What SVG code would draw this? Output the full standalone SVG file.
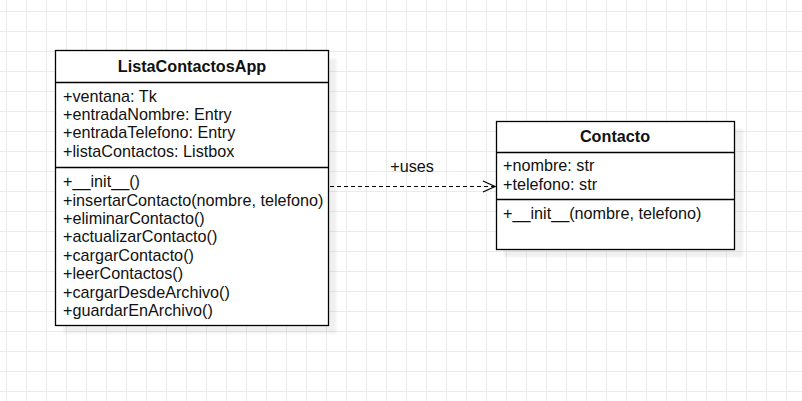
<svg xmlns="http://www.w3.org/2000/svg" width="802" height="401" viewBox="0 0 802 401">
<defs>
<pattern id="grid" x="6" y="11" width="20" height="20" patternUnits="userSpaceOnUse">
<path d="M0.5 0 V20 M0 0.5 H20" stroke="#ebebeb" stroke-width="1" fill="none"/>
</pattern>
<filter id="sh" x="-10%" y="-10%" width="130%" height="130%">
<feGaussianBlur stdDeviation="1"/>
</filter>
<marker id="open" viewBox="0 0 14 14" refX="13" refY="7" markerWidth="14" markerHeight="14" markerUnits="userSpaceOnUse" orient="auto">
<path d="M1 1.5 L13 7 L1 12.5" fill="none" stroke="#000" stroke-width="1.2"/>
</marker>
</defs>
<style>
.box{fill:#fff;stroke:#000;stroke-width:1.3}
.shadow{fill:#000;opacity:0.055}
.sep{stroke:#000;stroke-width:1.3}
.t{font-family:"Liberation Sans",Arial,sans-serif;font-size:16.2px;fill:#111}
.title{font-family:"Liberation Sans",Arial,sans-serif;font-size:16.2px;font-weight:bold;fill:#111;text-anchor:middle}
</style>
<rect width="802" height="401" fill="#fff"/>
<rect width="802" height="401" fill="url(#grid)"/>
<g id="connectors">
<line x1="330" y1="186.5" x2="495" y2="186.5" stroke="#000" stroke-width="1.2" stroke-dasharray="4 3" marker-end="url(#open)"/>
<text class="t" x="412" y="172" text-anchor="middle">+uses</text>
</g>
<g id="ListaContactosApp">
<rect class="shadow" x="63.5" y="58.5" width="273" height="275" filter="url(#sh)"/>
<rect class="box" x="55.5" y="50.5" width="273" height="275"/>
<text class="title" x="192" y="72">ListaContactosApp</text>
<line class="sep" x1="55.5" y1="82.5" x2="328.5" y2="82.5"/>
<text class="t" x="63" y="102">+ventana: Tk</text>
<text class="t" x="63" y="120">+entradaNombre: Entry</text>
<text class="t" x="63" y="138">+entradaTelefono: Entry</text>
<text class="t" x="63" y="157">+listaContactos: Listbox</text>
<line class="sep" x1="55.5" y1="167.5" x2="328.5" y2="167.5"/>
<text class="t" x="63" y="187">+__init__()</text>
<text class="t" x="63" y="206">+insertarContacto(nombre, telefono)</text>
<text class="t" x="63" y="224">+eliminarContacto()</text>
<text class="t" x="63" y="242">+actualizarContacto()</text>
<text class="t" x="63" y="261">+cargarContacto()</text>
<text class="t" x="63" y="279">+leerContactos()</text>
<text class="t" x="63" y="298">+cargarDesdeArchivo()</text>
<text class="t" x="63" y="316">+guardarEnArchivo()</text>
</g>
<g id="Contacto">
<rect class="shadow" x="504" y="129" width="239" height="128" filter="url(#sh)"/>
<rect class="box" x="496.5" y="121.5" width="238" height="128"/>
<text class="title" x="615" y="142">Contacto</text>
<line class="sep" x1="496.5" y1="152.5" x2="734.5" y2="152.5"/>
<text class="t" x="503" y="171">+nombre: str</text>
<text class="t" x="503" y="190">+telefono: str</text>
<line class="sep" x1="496.5" y1="199.5" x2="734.5" y2="199.5"/>
<text class="t" x="503" y="219">+__init__(nombre, telefono)</text>
</g>
</svg>
